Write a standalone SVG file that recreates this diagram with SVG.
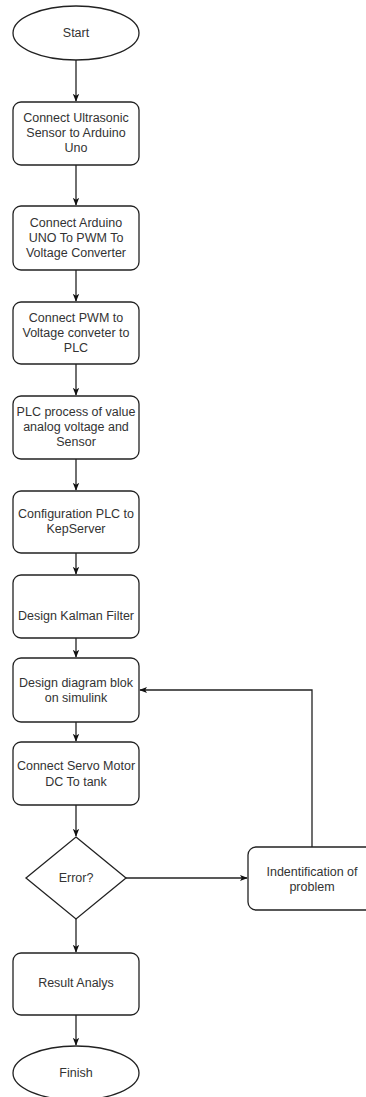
<svg xmlns="http://www.w3.org/2000/svg" width="366" height="1097" viewBox="0 0 366 1097">
<defs>
<style>
.n{fill:#fff;stroke:#222;stroke-width:1.3}
.t{font-family:"Liberation Sans",Arial,sans-serif;font-size:12.5px;fill:#333;text-anchor:middle}
.c{fill:none;stroke:#222;stroke-width:1.3}
</style>
<marker id="a" viewBox="0 0 10 10" refX="9" refY="5" markerWidth="8" markerHeight="8" orient="auto" markerUnits="userSpaceOnUse">
<path d="M0,1 L10,5 L0,9 L2.5,5 z" fill="#111"/>
</marker>
</defs>
<rect width="366" height="1097" fill="#fff"/>
<g id="connectors">
<path class="c" d="M76,60 V101" marker-end="url(#a)"/>
<path class="c" d="M76,165 V205" marker-end="url(#a)"/>
<path class="c" d="M76,270 V301" marker-end="url(#a)"/>
<path class="c" d="M76,364 V395" marker-end="url(#a)"/>
<path class="c" d="M76,459 V490" marker-end="url(#a)"/>
<path class="c" d="M76,553 V574" marker-end="url(#a)"/>
<path class="c" d="M76,638 V657" marker-end="url(#a)"/>
<path class="c" d="M76,722 V741" marker-end="url(#a)"/>
<path class="c" d="M76,805 V836" marker-end="url(#a)"/>
<path class="c" d="M76,919 V952" marker-end="url(#a)"/>
<path class="c" d="M76,1015 V1045" marker-end="url(#a)"/>
<path class="c" d="M126,878 H247" marker-end="url(#a)"/>
<path class="c" d="M312,847 V690 H140" marker-end="url(#a)"/>
</g>
<g id="start"><ellipse class="n" cx="76" cy="33" rx="63" ry="27"/><text class="t" x="76" y="37">Start</text></g>
<g id="n1"><rect class="n" x="13" y="102" width="126" height="63" rx="8"/><text class="t" x="76" y="122">Connect Ultrasonic</text><text class="t" x="76" y="137">Sensor to Arduino</text><text class="t" x="76" y="152">Uno</text></g>
<g id="n2"><rect class="n" x="13" y="206" width="126" height="64" rx="8"/><text class="t" x="76" y="227">Connect Arduino</text><text class="t" x="76" y="242">UNO To PWM To</text><text class="t" x="76" y="257">Voltage Converter</text></g>
<g id="n3"><rect class="n" x="13" y="302" width="126" height="62" rx="8"/><text class="t" x="76" y="322">Connect PWM to</text><text class="t" x="76" y="337">Voltage conveter to</text><text class="t" x="76" y="352">PLC</text></g>
<g id="n4"><rect class="n" x="13" y="396" width="126" height="63" rx="8"/><text class="t" x="76" y="416">PLC process of value</text><text class="t" x="76" y="431">analog voltage and</text><text class="t" x="76" y="446">Sensor</text></g>
<g id="n5"><rect class="n" x="13" y="491" width="126" height="62" rx="8"/><text class="t" x="76" y="518">Configuration PLC to</text><text class="t" x="76" y="533">KepServer</text></g>
<g id="n6"><rect class="n" x="13" y="575" width="126" height="63" rx="8"/><text class="t" x="76" y="620">Design Kalman Filter</text></g>
<g id="n7"><rect class="n" x="13" y="658" width="126" height="64" rx="8"/><text class="t" x="76" y="687">Design diagram blok</text><text class="t" x="76" y="702">on simulink</text></g>
<g id="n8"><rect class="n" x="13" y="742" width="126" height="63" rx="8"/><text class="t" x="76" y="770">Connect Servo Motor</text><text class="t" x="76" y="786">DC To tank</text></g>
<g id="d1"><path class="n" d="M76,837 L126,878 L76,919 L26,878 Z"/><text class="t" x="76" y="882">Error?</text></g>
<g id="n9"><rect class="n" x="248" y="847" width="126" height="63" rx="8"/><text class="t" x="312" y="876">Indentification of</text><text class="t" x="312" y="891">problem</text></g>
<g id="n10"><rect class="n" x="13" y="953" width="126" height="62" rx="8"/><text class="t" x="76" y="987">Result Analys</text></g>
<g id="finish"><ellipse class="n" cx="76" cy="1073" rx="63" ry="27"/><text class="t" x="76" y="1077">Finish</text></g>
</svg>
